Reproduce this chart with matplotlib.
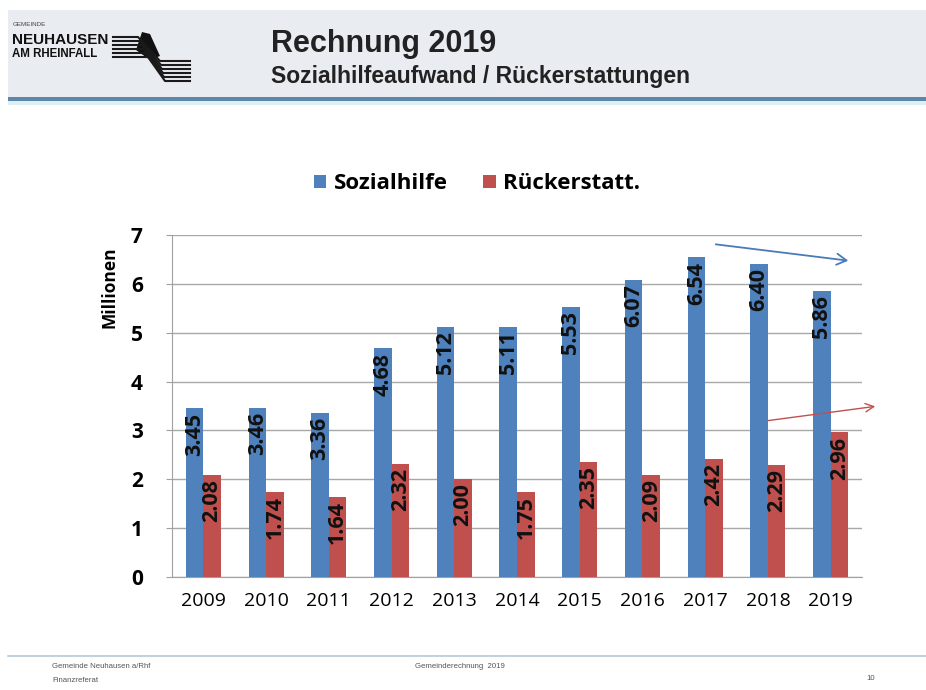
import matplotlib
matplotlib.use("Agg")
import matplotlib.pyplot as plt
import numpy as np
from matplotlib.patches import Rectangle, Polygon, FancyArrowPatch

years = ["2009", "2010", "2011", "2012", "2013", "2014", "2015", "2016", "2017", "2018", "2019"]
sozialhilfe = [3.45, 3.46, 3.36, 4.68, 5.12, 5.11, 5.53, 6.07, 6.54, 6.40, 5.86]
rueckerstatt = [2.08, 1.74, 1.64, 2.32, 2.00, 1.75, 2.35, 2.09, 2.42, 2.29, 2.96]
y_ticks = [0, 1, 2, 3, 4, 5, 6, 7]

BLUE = "#4F81BD"
RED = "#C0504D"
W, H = 926, 690

fig = plt.figure(figsize=(W / 100, H / 100), dpi=100)
fig.patch.set_facecolor("white")


def fx(px):
    return px / W


def fy(py):
    return 1 - py / H


# header band
fig.patches.append(Rectangle((fx(8), fy(97)), fx(918), fy(10) - fy(97),
                             transform=fig.transFigure, facecolor="#e9ecf1",
                             edgecolor="none", zorder=0))
fig.patches.append(Rectangle((fx(8), fy(101)), fx(918), fy(97) - fy(101),
                             transform=fig.transFigure, facecolor="#5f86a6",
                             edgecolor="none", zorder=0))
fig.patches.append(Rectangle((fx(8), fy(105)), fx(918), fy(101) - fy(105),
                             transform=fig.transFigure, facecolor="#dcf0f4",
                             edgecolor="none", zorder=0))

# logo
fig.text(fx(13), fy(24), "GEMEINDE", fontsize=4.5, color="#444444",
         ha="left", va="center", family="Liberation Sans")
fig.text(fx(12), fy(40), "NEUHAUSEN", fontsize=11, fontweight="bold", color="#111111",
         ha="left", va="center", family="Liberation Sans")
fig.text(fx(12), fy(54), "AM RHEINFALL", fontsize=8.3, fontweight="bold", color="#111111",
         ha="left", va="center", family="Liberation Sans")
for k in range(6):
    y0 = 37 + k * 4
    xs = [fx(113), fx(138 + k * 2), fx(160 + k), fx(190)]
    ys = [fy(y0), fy(y0), fy(y0 + 24), fy(y0 + 24)]
    fig.lines.append(plt.Line2D(xs, ys, transform=fig.transFigure,
                                color="#1a1a1a", lw=1.5))
fig.patches.append(Polygon([(fx(136), fy(50)), (fx(142), fy(32)), (fx(150), fy(34)),
                            (fx(160), fy(56)), (fx(150), fy(60))],
                           closed=True, transform=fig.transFigure,
                           facecolor="#111111", edgecolor="none"))

# titles
fig.text(fx(271), fy(44), "Rechnung 2019", fontsize=22, fontweight="bold",
         color="#222222", ha="left", va="center", family="Liberation Sans")
fig.text(fx(271), fy(77), "Sozialhilfeaufwand / Rückerstattungen", fontsize=16.5,
         fontweight="bold", color="#222222", ha="left", va="center",
         family="Liberation Sans")

# footer
fig.lines.append(plt.Line2D([fx(8), fx(926)], [fy(656), fy(656)],
                            transform=fig.transFigure, color="#b8c8d6", lw=1.2))
fig.text(fx(52), fy(667), "Gemeinde Neuhausen a/Rhf", fontsize=5.6, color="#555555",
         ha="left", va="center", family="Liberation Sans")
fig.text(fx(52), fy(681), "Finanzreferat", fontsize=5.6, color="#555555",
         ha="left", va="center", family="Liberation Sans")
fig.text(fx(415), fy(667), "Gemeinderechnung  2019", fontsize=5.6, color="#555555",
         ha="left", va="center", family="Liberation Sans")
fig.text(fx(866), fy(678), "10", fontsize=5.6, color="#555555",
         ha="left", va="center", family="Liberation Sans")

# chart
ax = fig.add_axes([fx(172), fy(577), fx(862) - fx(172), fy(235) - fy(577)])
x = np.arange(len(years))
bw = 0.28
b1 = ax.bar(x - bw / 2, sozialhilfe, bw, color=BLUE, label="Sozialhilfe", zorder=3)
b2 = ax.bar(x + bw / 2, rueckerstatt, bw, color=RED, label="Rückerstatt.", zorder=3)

for bars, vals in ((b1, sozialhilfe), (b2, rueckerstatt)):
    for rect, v in zip(bars, vals):
        ax.annotate(f"{v:.2f}", (rect.get_x() + rect.get_width() / 2, v),
                    xytext=(0, -3), textcoords="offset points",
                    rotation=90, ha="center", va="top", fontsize=15.5,
                    fontweight="bold", color="#111111", family="Open Sans",
                    zorder=4)

ax.set_xlim(-0.5, len(years) - 0.5)
ax.set_ylim(0, 7)
ax.set_yticks(y_ticks)
ax.set_yticklabels([str(t) for t in y_ticks], fontsize=15, fontweight="bold",
                   family="Open Sans")
ax.set_xticks(x)
ax.set_xticklabels(years, fontsize=14, family="Open Sans")
ax.tick_params(axis="x", length=0, pad=11)
ax.tick_params(axis="y", length=4, color="#a0a0a0", pad=17)
ax.grid(axis="y", color="#a8a8a8", lw=1, zorder=0)
for s in ("top", "right"):
    ax.spines[s].set_visible(False)
ax.spines["left"].set_color("#a0a0a0")
ax.spines["bottom"].set_color("#a0a0a0")
ax.set_ylabel("Millionen", fontsize=12.5, fontweight="bold", family="Open Sans")
ax.yaxis.set_label_coords(-0.078, 0.848)

fig.legend(handles=[b1, b2], loc="center", bbox_to_anchor=(fx(477), fy(184)),
           ncol=2, frameon=False, prop={"size": 16, "weight": "bold", "family": "Open Sans"},
           handlelength=0.55, handleheight=0.55, handletextpad=0.35, columnspacing=1.6)

# trend arrows
fig.patches.append(FancyArrowPatch(
    (fx(713), fy(244)), (fx(851), fy(261)), transform=fig.transFigure,
    arrowstyle="->,head_length=7,head_width=4", color="#4a7ab8", lw=1.3))
fig.patches.append(FancyArrowPatch(
    (fx(765), fy(421)), (fx(878), fy(406)), transform=fig.transFigure,
    arrowstyle="->,head_length=6,head_width=3", color="#c0504d", lw=1.0))

fig.savefig("out.png", dpi=100)
